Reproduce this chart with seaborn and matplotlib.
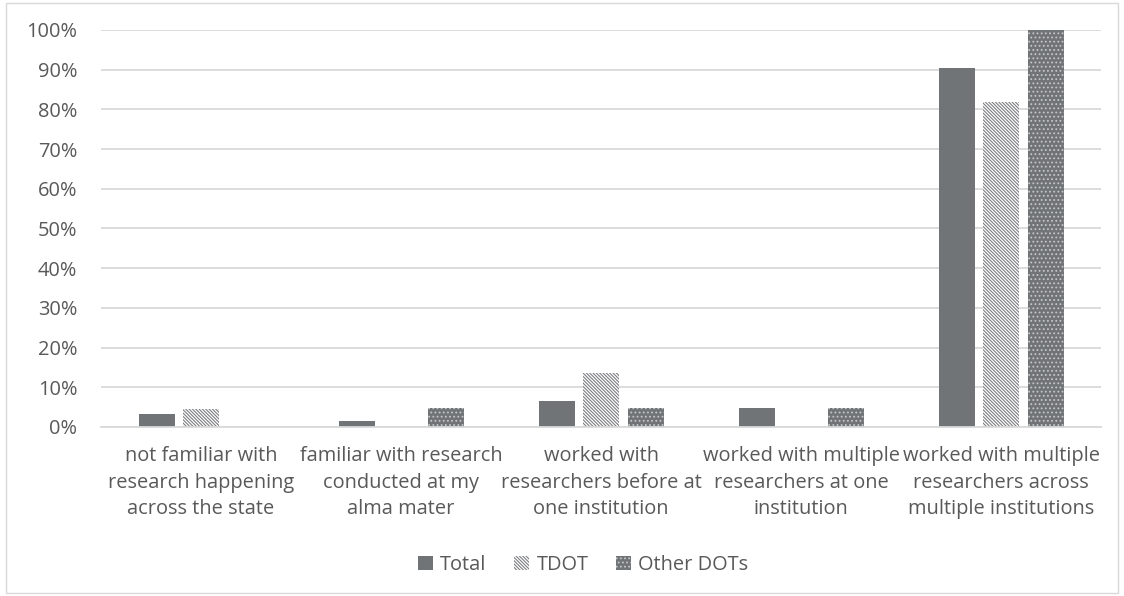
import matplotlib
matplotlib.use("Agg")
import matplotlib.pyplot as plt
import matplotlib.patches as mpatches
from matplotlib.ticker import PercentFormatter
import pandas as pd
import seaborn as sns

# Data
categories = [
    "not familiar with\nresearch happening\nacross the state",
    "familiar with research\nconducted at my\nalma mater",
    "worked with\nresearchers before at\none institution",
    "worked with multiple\nresearchers at one\ninstitution",
    "worked with multiple\nresearchers across\nmultiple institutions",
]
series = ["Total", "TDOT", "Other DOTs"]
total = [0.032, 0.016, 0.065, 0.048, 0.903]
tdot = [0.045, 0.0, 0.136, 0.0, 0.818]
other = [0.0, 0.048, 0.048, 0.048, 1.0]

df = pd.DataFrame({
    "category": categories * 3,
    "group": [s for s in series for _ in categories],
    "value": total + tdot + other,
})

sns.set_theme(style="white")
plt.rcParams["font.family"] = ["Open Sans", "DejaVu Sans"]
plt.rcParams["hatch.linewidth"] = 0.8

text_color = "#595959"
grid_color = "#d9d9d9"
bar_color = "#707477"
tdot_hatch = "\\" * 10
other_hatch = "...."
fs = 14.4

fig = plt.figure(figsize=(11.24, 5.96), dpi=100)
ax = fig.add_axes([0.0899, 0.2836, 0.8897, 0.6661])

sns.barplot(data=df, x="category", y="value", hue="group", hue_order=series,
            palette=[bar_color, "white", bar_color], width=0.667, gap=0.19,
            linewidth=0, legend=False, ax=ax)

# hatch styles per series
styles = [
    dict(hatch=None, edgecolor=bar_color),
    dict(hatch=tdot_hatch, edgecolor="#7c7f82"),
    dict(hatch=other_hatch, edgecolor="#c4c6c8"),
]
for cont, st in zip(ax.containers, styles):
    for p in cont.patches:
        if st["hatch"]:
            p.set_hatch(st["hatch"])
        p.set_edgecolor(st["edgecolor"])
        p.set_linewidth(0)

ax.set_ylim(0, 1)
ax.set_xlim(-0.5, 4.5)
ax.set_yticks([i / 10 for i in range(11)])
ax.yaxis.set_major_formatter(PercentFormatter(1.0, decimals=0))
ax.grid(axis="y", color=grid_color, linewidth=1.3)
ax.set_axisbelow(True)
for s in ["top", "right", "left"]:
    ax.spines[s].set_visible(False)
ax.spines["bottom"].set_color(grid_color)
ax.spines["bottom"].set_linewidth(1.3)
ax.tick_params(axis="both", length=0, labelsize=fs, colors=text_color)
ax.tick_params(axis="x", pad=14)
ax.tick_params(axis="y", pad=17)
for lab in ax.get_xticklabels():
    lab.set_linespacing(1.42)
    lab.set_ha("center")
ax.set_xlabel("")
ax.set_ylabel("")

handles = [
    mpatches.Patch(facecolor=bar_color, edgecolor=bar_color, linewidth=0),
    mpatches.Patch(facecolor="white", edgecolor="#7c7f82", hatch=tdot_hatch, linewidth=0),
    mpatches.Patch(facecolor=bar_color, edgecolor="#c4c6c8", hatch=other_hatch, linewidth=0),
]
leg = fig.legend(handles, series, loc="center", bbox_to_anchor=(0.519, 0.052),
                 ncol=3, frameon=False, fontsize=fs, handlelength=0.75,
                 handleheight=0.75, handletextpad=0.35, columnspacing=1.4)
for t in leg.get_texts():
    t.set_color(text_color)

# outer border
fig.patches.append(mpatches.Rectangle((0.005, 0.005), 0.99, 0.99, transform=fig.transFigure,
                                      fill=False, edgecolor="#d9d9d9", linewidth=1))

fig.savefig("out.png", dpi=100)
